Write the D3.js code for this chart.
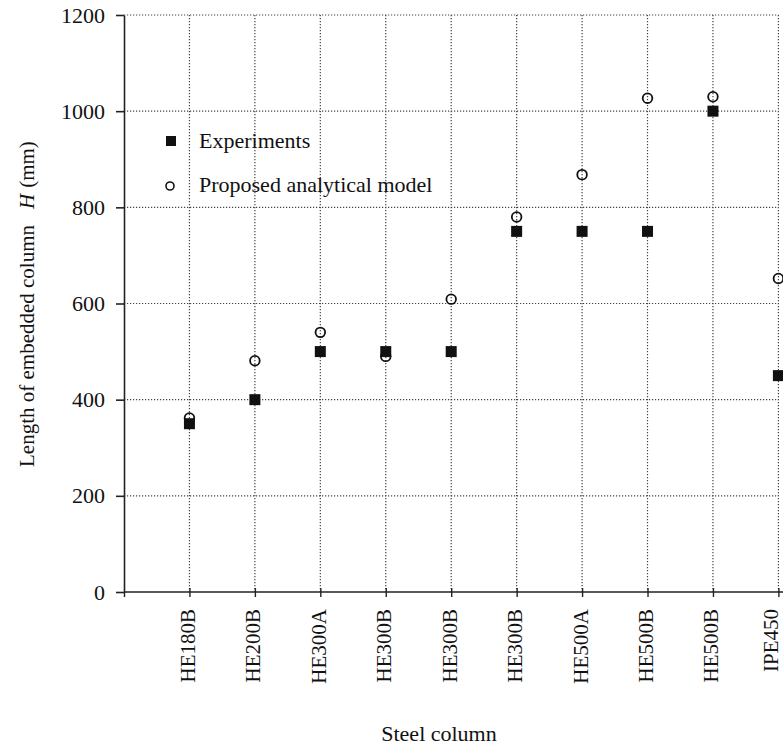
<!DOCTYPE html>
<html>
<head>
<meta charset="utf-8">
<script src="https://cdn.jsdelivr.net/npm/d3@7"></script>
<style>
    html, body { margin: 0; padding: 0; background: #ffffff; }
    svg { display: block; font-family: "Liberation Serif", "DejaVu Serif", serif; }
</style>
</head>
<body>
<svg id="chart" width="783" height="747"></svg>
<script>
const columnNames = ["HE180B", "HE200B", "HE300A", "HE300B", "HE300B", "HE300B", "HE500A", "HE500B", "HE500B", "IPE450"];
const experimentH = [350, 400, 500, 500, 500, 750, 750, 750, 1000, 450];
const modelH = [362, 481, 540, 490, 609, 780, 868, 1027, 1030, 652];
const yTickValues = [0, 200, 400, 600, 800, 1000, 1200];

const svg = d3.select("#chart");
const box = { left: 124, right: 778.4, top: 15, bottom: 592 };

const x = d3.scaleLinear().domain([0, columnNames.length]).range([box.left, box.right]);
const y = d3.scaleLinear().domain([0, 1200]).range([box.bottom, box.top]);

const points = columnNames.map((name, i) => ({
    name,
    pos: i + 1,
    exp: experimentH[i],
    model: modelH[i]
}));

// dotted grid
const grid = svg.append("g")
    .attr("stroke", "#444")
    .attr("stroke-width", 1.2)
    .attr("stroke-dasharray", "1.2,1.8");

grid.selectAll(".hgrid")
    .data(yTickValues.filter(v => v > 0))
    .join("line")
    .attr("x1", box.left)
    .attr("x2", x(columnNames.length))
    .attr("y1", d => y(d))
    .attr("y2", d => y(d));

grid.selectAll(".vgrid")
    .data(points)
    .join("line")
    .attr("x1", d => x(d.pos))
    .attr("x2", d => x(d.pos))
    .attr("y1", y(1200))
    .attr("y2", y(0));

// y axis
const yAxis = svg.append("g")
    .attr("transform", `translate(${box.left},0)`)
    .call(d3.axisLeft(y)
        .tickValues(yTickValues)
        .tickFormat(d3.format("d"))
        .tickSize(8)
        .tickPadding(11)
        .tickSizeOuter(0));

yAxis.select(".domain").attr("stroke", "#222").attr("stroke-width", 1.6);
yAxis.selectAll(".tick line").attr("stroke", "#222").attr("stroke-width", 1.6);
yAxis.selectAll(".tick text")
    .attr("font-family", "Liberation Serif")
    .attr("font-size", 22)
    .attr("fill", "#111");

// x axis
const xAxis = svg.append("g")
    .attr("transform", `translate(0,${box.bottom})`)
    .call(d3.axisBottom(x)
        .tickValues(d3.range(0, columnNames.length + 1))
        .tickFormat(i => i ? columnNames[i - 1] : "")
        .tickSize(5)
        .tickSizeOuter(0));

xAxis.select(".domain").remove();
xAxis.append("line")
    .attr("x1", box.left)
    .attr("x2", 783)
    .attr("stroke", "#222")
    .attr("stroke-width", 1.6);

xAxis.selectAll(".tick line")
    .attr("y1", d => d ? -4 : 0)
    .attr("y2", 5)
    .attr("stroke", "#222")
    .attr("stroke-width", 1.4);

// the last label sits at the page edge, so nudge it in a little
xAxis.selectAll(".tick text")
    .attr("font-family", "Liberation Serif")
    .attr("font-size", 21)
    .attr("fill", "#111")
    .attr("text-anchor", "end")
    .attr("dy", null)
    .attr("transform", "rotate(-90)")
    .attr("x", -17)
    .attr("y", d => d === columnNames.length ? -1 : 5);

// markers
svg.append("g")
    .selectAll("rect")
    .data(points)
    .join("rect")
    .attr("x", d => x(d.pos) - 5.5)
    .attr("y", d => y(d.exp) - 5.5)
    .attr("width", 11)
    .attr("height", 11)
    .attr("fill", "#111");

svg.append("g")
    .selectAll("circle")
    .data(points)
    .join("circle")
    .attr("cx", d => x(d.pos))
    .attr("cy", d => y(d.model))
    .attr("r", 4.8)
    .attr("fill", "none")
    .attr("stroke", "#111")
    .attr("stroke-width", 1.8);

// legend
const legend = svg.append("g").attr("font-size", 22).attr("fill", "#111");

legend.append("rect")
    .attr("x", 166).attr("y", 136)
    .attr("width", 10).attr("height", 10)
    .attr("fill", "#111");
legend.append("text")
    .attr("x", 199).attr("y", 148)
    .text("Experiments");

legend.append("circle")
    .attr("cx", 170).attr("cy", 186)
    .attr("r", 4)
    .attr("fill", "none")
    .attr("stroke", "#111")
    .attr("stroke-width", 1.6);
legend.append("text")
    .attr("x", 199).attr("y", 192)
    .text("Proposed analytical model");

// axis titles
const yTitle = svg.append("text")
    .attr("transform", "translate(34,467) rotate(-90)")
    .attr("font-size", 21)
    .attr("fill", "#111");
yTitle.append("tspan").text("Length of embedded column");
yTitle.append("tspan").attr("dx", 16).attr("font-style", "italic").text("H");
yTitle.append("tspan").attr("dx", 6).text("(mm)");

svg.append("text")
    .attr("x", 439)
    .attr("y", 741)
    .attr("text-anchor", "middle")
    .attr("font-size", 22)
    .attr("fill", "#111")
    .text("Steel column");
</script>
</body>
</html>
